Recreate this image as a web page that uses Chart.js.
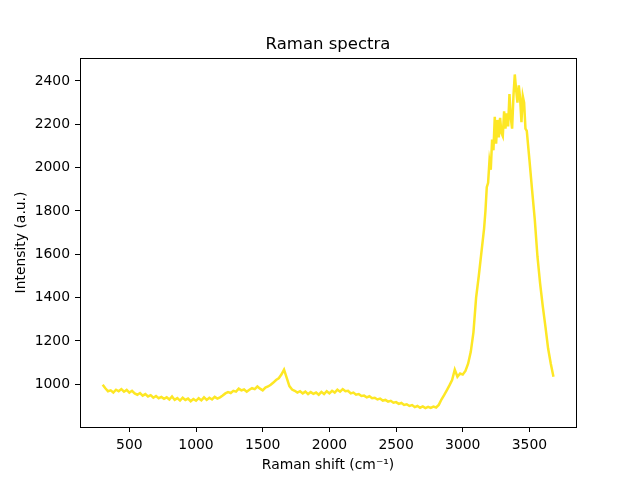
<!DOCTYPE html>
<html>
<head>
<meta charset="utf-8">
<title>Raman spectra</title>
<script src="https://cdn.jsdelivr.net/npm/chart.js@4/dist/chart.umd.min.js"></script>
<style>
  body { margin: 0; background: #fff; }
</style>
</head>
<body>
<canvas id="myChart" width="640" height="480"></canvas>
<script>
// Raman shift (cm-1)
const shift = [
  300, 320, 340, 360, 380, 400, 420, 440, 460, 480,
  500, 520, 540, 560, 580, 600, 620, 640, 660, 680,
  700, 720, 740, 760, 780, 800, 820, 840, 860, 880,
  900, 920, 940, 960, 980, 1000, 1020, 1040, 1060, 1080,
  1100, 1120, 1140, 1160, 1180, 1200, 1220, 1240, 1260, 1280,
  1300, 1320, 1340, 1360, 1380, 1400, 1420, 1440, 1460, 1480,
  1500, 1520, 1540, 1560, 1580, 1600, 1620, 1640, 1660, 1680,
  1700, 1720, 1740, 1760, 1780, 1800, 1820, 1840, 1860, 1880,
  1900, 1920, 1940, 1960, 1980, 2000, 2020, 2040, 2060, 2080,
  2100, 2120, 2140, 2160, 2180, 2200, 2220, 2240, 2260, 2280,
  2300, 2320, 2340, 2360, 2380, 2400, 2420, 2440, 2460, 2480,
  2500, 2520, 2540, 2560, 2580, 2600, 2620, 2640, 2660, 2680,
  2700, 2720, 2740, 2760, 2780, 2800, 2820, 2840, 2860, 2880,
  2900, 2920, 2940, 2960, 2980, 3000, 3020, 3040, 3060, 3080,
  3100, 3120, 3140, 3160, 3170, 3180, 3190, 3200, 3210, 3220,
  3230, 3240, 3250, 3260, 3270, 3280, 3290, 3300, 3310, 3320,
  3330, 3340, 3350, 3360, 3370, 3380, 3390, 3400, 3410, 3420,
  3430, 3440, 3450, 3460, 3470, 3480, 3500, 3520, 3540, 3560,
  3580, 3600, 3620, 3640, 3660, 3680
];
// intensity (a.u.)
const intensity = [
  998, 982, 968, 972, 962, 975, 968, 978, 966, 974,
  962, 970, 958, 952, 960, 948, 955, 944, 950, 938,
  946, 936, 942, 933, 940, 930, 944, 928, 936, 925,
  938, 928, 934, 922, 932, 924, 936, 926, 940, 928,
  938, 930, 942, 934, 940, 948, 958, 964, 960, 970,
  966, 980, 972, 976, 966, 975, 982, 978, 990, 980,
  972, 985, 990, 998, 1008, 1020, 1028, 1045, 1068, 1030,
  992, 976, 970, 962, 968, 958, 966, 955, 964, 956,
  962, 952, 965, 955, 968, 958, 970, 962, 975, 966,
  978, 968, 970, 958, 962, 952, 955, 946, 948, 940,
  945, 936, 938, 930, 934, 925, 928, 920, 924, 915,
  918, 910, 914, 905, 908, 900, 904, 895, 900, 892,
  898, 890, 896, 891, 897, 893, 905, 930, 950, 972,
  995, 1020, 1068, 1035, 1050, 1045, 1062, 1095, 1150, 1240,
  1400, 1500, 1610, 1720, 1800, 1910, 1930, 2030, 1990, 2130,
  2080, 2235, 2110, 2220, 2140, 2230, 2160, 2145, 2260, 2180,
  2250, 2190, 2340, 2230, 2180, 2330, 2430, 2360, 2300, 2380,
  2320, 2210, 2330, 2300, 2180, 2170, 2035, 1895, 1760, 1590,
  1465, 1360, 1265, 1165, 1095, 1035
];
const xTicks = [500, 1000, 1500, 2000, 2500, 3000, 3500];
const yTicks = [1000, 1200, 1400, 1600, 1800, 2000, 2200, 2400];

const points = shift.map((x, i) => ({ x: x, y: intensity[i] }));

// box round the plot + title, matplotlib style
const frame = {
  id: "frame",
  afterDraw(chart) {
    const { ctx, chartArea } = chart;
    ctx.save();
    ctx.strokeStyle = "#000";
    ctx.lineWidth = 1;
    ctx.strokeRect(
      Math.round(chartArea.left) + 0.5,
      Math.round(chartArea.top) + 0.5,
      Math.round(chartArea.right - chartArea.left),
      Math.round(chartArea.bottom - chartArea.top)
    );
    ctx.fillStyle = "#000";
    ctx.font = "16.5px 'DejaVu Sans'";
    ctx.textAlign = "center";
    ctx.textBaseline = "alphabetic";
    ctx.fillText("Raman spectra", (chartArea.left + chartArea.right) / 2, 49);
    ctx.restore();
  },
};

const ctx = document.getElementById("myChart");
const myChart = new Chart(ctx, {
  type: "line",
  data: {
    datasets: [
      {
        data: points,
        borderColor: "#fde725",
        borderWidth: 2.5,
        pointRadius: 0,
        tension: 0,
        fill: false,
      },
    ],
  },
  options: {
    responsive: false,
    animation: false,
    devicePixelRatio: 1,
    layout: { padding: { top: 58, right: 64, left: 0, bottom: 0 } },
    plugins: {
      legend: { display: false },
      tooltip: { enabled: false },
    },
    scales: {
      x: {
        type: "linear",
        min: 130,
        max: 3849,
        afterBuildTicks: (scale) => {
          scale.ticks = xTicks.map((v) => ({ value: v }));
        },
        afterFit: (scale) => {
          scale.height = 53;
        },
        grid: {
          drawOnChartArea: false,
          drawTicks: true,
          tickLength: 5,
          tickColor: "#000",
        },
        border: { display: false },
        ticks: {
          color: "#000",
          padding: 5,
          maxRotation: 0,
          autoSkip: false,
          font: { family: "'DejaVu Sans'", size: 13.9 },
          callback: (v) => String(v),
        },
        title: {
          display: true,
          text: "Raman shift (cm\u207B\u00B9)",
          color: "#000",
          font: { family: "'DejaVu Sans'", size: 13.9 },
          padding: { top: 0, bottom: 6 },
        },
      },
      y: {
        type: "linear",
        min: 803,
        max: 2506,
        afterBuildTicks: (scale) => {
          scale.ticks = yTicks.map((v) => ({ value: v }));
        },
        afterFit: (scale) => {
          scale.width = 80;
        },
        grid: {
          drawOnChartArea: false,
          drawTicks: true,
          tickLength: 5,
          tickColor: "#000",
        },
        border: { display: false },
        ticks: {
          color: "#000",
          padding: 5,
          autoSkip: false,
          font: { family: "'DejaVu Sans'", size: 13.9 },
          callback: (v) => String(v),
        },
        title: {
          display: true,
          text: "Intensity (a.u.)",
          color: "#000",
          font: { family: "'DejaVu Sans'", size: 13.9 },
          padding: { top: 13, bottom: 0 },
        },
      },
    },
  },
  plugins: [frame],
});
</script>
</body>
</html>
